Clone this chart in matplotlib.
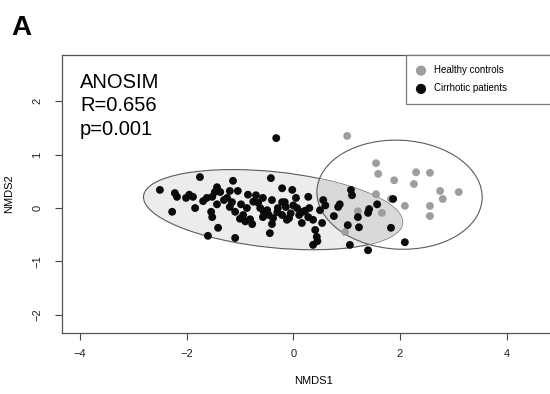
import matplotlib
matplotlib.use('Agg')
import matplotlib.pyplot as plt
from matplotlib.patches import Ellipse

plt.rcParams['font.family'] = ['Liberation Sans', 'DejaVu Sans']

# NMDS scores
healthy_x = [1.01, 1.55, 1.59, 1.89, 2.30, 2.56, 2.26, 2.75, 3.10, 2.80,
             2.09, 2.56, 2.56, 1.55, 1.83, 1.21, 1.66, 0.97]
healthy_y = [1.35, 0.84, 0.64, 0.52, 0.67, 0.66, 0.45, 0.32, 0.30, 0.17,
             0.04, 0.04, -0.15, 0.26, 0.17, -0.06, -0.09, -0.45]

cirrhotic_x = [-2.50, -2.22, -2.18, -2.01, -1.88, -1.75, -2.27, -1.84, -1.69, -1.62,
               -1.52, -1.43, -1.54, -1.52, -1.60, -1.41, -1.47, -1.43, -1.13, -0.42,
               -1.37, -1.19, -1.04, -1.24, -1.15, -1.19, -1.09, -0.98, -0.87, -0.94,
               -0.81, -0.77, -0.70, -0.57, -0.40, -0.62, -0.49, -0.46, -0.57, -0.38,
               -0.29, -0.21, -0.21, -0.21, -0.44, -1.09, -0.12, -0.40, -0.02, 0.28,
               0.05, -0.16, -0.14, 0.07, 0.18, 0.11, -0.08, 0.28, 0.37, 0.16,
               0.50, 0.54, 0.41, 0.44, 0.37, 0.56, 1.08, 1.10, 0.84, 0.87,
               0.76, 1.02, 1.21, 1.06, 1.57, 1.42, 1.40, 1.87, 1.23, 1.83,
               1.40, 2.09, -0.32,
               -1.30, -1.00, -0.90, -0.66, -0.30, -0.05, 0.00, 0.22, -1.95, -0.85,
               0.60, 0.45, -0.75, -0.55, 0.30]
cirrhotic_y = [0.34, 0.28, 0.21, 0.19, 0.21, 0.58, -0.07, 0.00, 0.13, 0.19,
               0.21, 0.39, -0.07, -0.17, -0.52, -0.37, 0.30, 0.07, 0.51, 0.56,
               0.30, 0.32, 0.32, 0.19, 0.11, 0.02, -0.07, 0.07, 0.00, -0.13,
               -0.21, -0.30, 0.24, 0.19, 0.15, 0.00, -0.04, -0.13, -0.17, -0.19,
               0.00, 0.37, 0.11, -0.13, -0.47, -0.56, -0.22, -0.30, 0.34, 0.21,
               0.19, 0.11, 0.02, 0.00, -0.07, -0.13, -0.19, -0.17, -0.22, -0.28,
               -0.04, -0.28, -0.41, -0.54, -0.69, 0.15, 0.34, 0.24, 0.02, 0.07,
               -0.15, -0.32, -0.17, -0.69, 0.07, -0.02, -0.09, 0.17, -0.36, -0.37,
               -0.79, -0.64, 1.31,
               0.15, -0.20, -0.25, 0.10, -0.08, -0.10, 0.05, -0.05, 0.25, 0.25,
               0.05, -0.62, 0.12, -0.08, 0.00]

group_names = ['Healthy controls', 'Cirrhotic patients']
group_colors = ['#9e9e9e', '#0a0a0a']

# group ellipses: healthy, cirrhotic
ell_center = [(1.99, 0.25), (-0.38, -0.03)]
ell_width = [3.10, 4.88]
ell_height = [2.04, 1.42]
ell_angle = [-3, -6]

anosim_lines = ['ANOSIM', 'R=0.656', 'p=0.001']

fig = plt.figure(figsize=(5.5, 3.94), dpi=100)
ax = fig.add_axes([0.1122, 0.1548, 0.915, 0.7056])

# ellipses
e_healthy = Ellipse(ell_center[0], ell_width[0], ell_height[0], angle=ell_angle[0],
                    facecolor='none', edgecolor='#5a5a5a', lw=0.8, zorder=3)
e_cirr = Ellipse(ell_center[1], ell_width[1], ell_height[1], angle=ell_angle[1],
                 facecolor='#ececec', edgecolor='#5a5a5a', lw=0.8, zorder=1)
ax.add_patch(e_cirr)
ax.add_patch(e_healthy)
overlap = Ellipse(ell_center[1], ell_width[1], ell_height[1], angle=ell_angle[1],
                  facecolor='#d9d9d9', edgecolor='none', zorder=1.5)
ax.add_patch(overlap)
overlap.set_clip_path(e_healthy)

sc_h = ax.scatter(healthy_x, healthy_y, s=32, color=group_colors[0],
                  edgecolors='none', zorder=4, label=group_names[0])
sc_c = ax.scatter(cirrhotic_x, cirrhotic_y, s=32, color=group_colors[1],
                  edgecolors='none', zorder=5, label=group_names[1])

ax.set_xlim(-4.34, 5.09)
ax.set_ylim(-2.34, 2.866)
ax.set_xticks([-4, -2, 0, 2, 4])
ax.set_yticks([-2, -1, 0, 1, 2])
ax.tick_params(axis='both', length=5, width=0.8, color='#444444',
               labelsize=8, labelcolor='#222222')
ax.tick_params(axis='x', pad=6.5)
ax.tick_params(axis='y', pad=9, labelrotation=90)
for lab in ax.get_yticklabels():
    lab.set_va('center')
for sp in ax.spines.values():
    sp.set_color('#555555')
    sp.set_linewidth(0.9)

ax.set_xlabel('NMDS1', fontsize=8, labelpad=12)
ax.set_ylabel('NMDS2', fontsize=8, labelpad=13)

ys = [0.880, 0.799, 0.713]
for txt, yy in zip(anosim_lines, ys):
    ax.text(0.0364, yy, txt, transform=ax.transAxes, fontsize=14.5,
            va='baseline', ha='left')

leg = ax.legend(handles=[sc_h, sc_c], loc='upper left',
                bbox_to_anchor=(0.684, 0.5, 0.316, 0.5), mode='expand',
                borderaxespad=0, fontsize=7, markerscale=1.3, frameon=True,
                fancybox=False, edgecolor='#777777', framealpha=1,
                borderpad=1.05, handlelength=1.0, handletextpad=0.8,
                labelspacing=0.85)
leg.get_frame().set_linewidth(0.9)

fig.text(0.02, 1 - 35 / 394, 'A', fontsize=20, fontweight='bold', va='baseline')

fig.savefig('out.png', dpi=100)
